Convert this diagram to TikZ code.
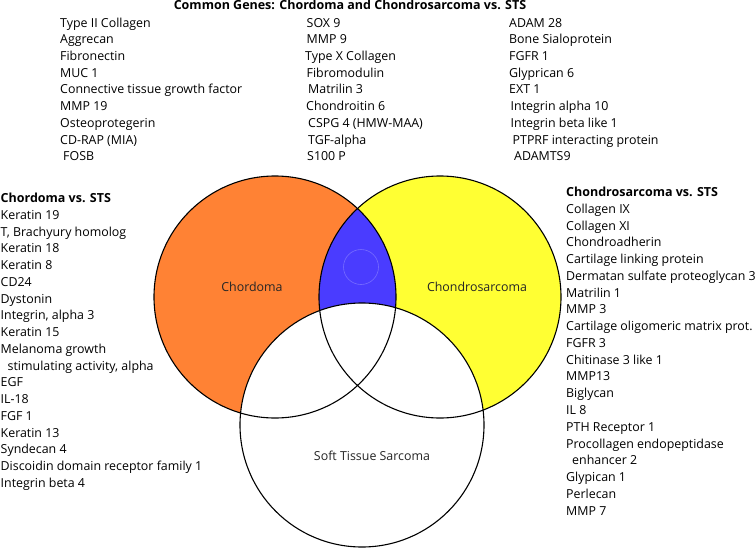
\documentclass[tikz,border=0pt]{standalone}
\usepackage{fontspec}
\setmainfont{Open Sans}
\definecolor{chordoma}{RGB}{255,130,52}
\definecolor{chondro}{RGB}{255,255,51}
\definecolor{common}{RGB}{74,60,255}
\tikzset{
  gene/.style={anchor=base west, inner sep=0pt, font=\fontsize{12.4}{14}\selectfont},
  head/.style={anchor=base west, inner sep=0pt, font=\fontsize{12.5}{14}\selectfont\bfseries},
  setname/.style={anchor=base, inner sep=0pt, text=black!85, font=\fontsize{12.4}{16}\selectfont},
  ring/.style={draw=black, line width=1.1pt},
}

\begin{document}
\begin{tikzpicture}[x=1pt, y=-1pt]
    \useasboundingbox(0, 0)rectangle(756, 549);
    % the three sets
    \coordinate(chd)at(275, 297);
    \coordinate(chs)at(440, 297);
    \coordinate(sts)at(362, 425);
    \fill[chordoma](chd)circle(121);
    \fill[chondro](chs)circle(121);
    \begin{scope}
        \clip(chd)circle(121);
        \fill[common](chs)circle(121);
    \end{scope}
    \fill[white](sts)circle(122);
    \draw[common!75!white, line width=0.6pt](361, 267)circle(17.5);
    \draw[ring](chd)circle(121);
    \draw[ring](chs)circle(121);
    \draw[ring](sts)circle(122);
    \node[setname](lchd)at(252, 291){Chordoma};
    \node[setname](lchs)at(477, 291.5){Chondrosarcoma};
    \node[setname](lsts)at(372, 460.5){Soft Tissue Sarcoma};

    % common genes
    \node[head, anchor=base](title)at(350, 9.5){Common Genes: Chordoma and Chondrosarcoma vs. STS};
    \foreach \dx/\txt [count=\i] in {0/Type II Collagen, 0/Aggrecan, 0/Fibronectin, 0/MUC 1,
        0/Connective tissue growth factor, 0/MMP 19, 0/Osteoprotegerin, 0/CD-RAP (MIA), 3/FOSB}
        \node[gene](ca\i)at(60+\dx, 10.3+16.72*\i){\txt};
    \foreach \dx/\txt [count=\i] in {0/SOX 9, 0/MMP 9, -1.5/Type X Collagen, 0/Fibromodulin,
        1.5/Matrilin 3, -0.5/Chondroitin 6, 1.5/CSPG 4 (HMW-MAA), 1.5/TGF-alpha, 0.5/S100 P}
        \node[gene](cb\i)at(306.5+\dx, 10.3+16.72*\i){\txt};
    \foreach \dx/\txt [count=\i] in {0/ADAM 28, 0/Bone Sialoprotein, 0/FGFR 1, 0/Glyprican 6,
        0/EXT 1, 1.5/Integrin alpha 10, 1.5/Integrin beta like 1, 3.5/PTPRF interacting protein,
        5/ADAMTS9}
        \node[gene](cc\i)at(509+\dx, 10.3+16.72*\i){\txt};

    % chordoma only
    \node[head](hchd)at(0.5, 202.7){Chordoma vs. STS};
    \foreach \dx/\txt [count=\i] in {0/Keratin 19, 0/{T, Brachyury homolog}, 0/Keratin 18,
        0/Keratin 8, 0/CD24, 0/Dystonin, 0/{Integrin, alpha 3}, 0/Keratin 15,
        0/Melanoma growth, 7/{stimulating activity, alpha}, 0/EGF, 0/IL-18, 0/FGF 1,
        0/Keratin 13, 0/Syndecan 4, 0/Discoidin domain receptor family 1, 0/Integrin beta 4}
        \node[gene](gchd\i)at(0.5+\dx, 202.7+16.75*\i){\txt};

    % chondrosarcoma only
    \node[head](hchs)at(566, 196.6){Chondrosarcoma vs. STS};
    \foreach \dx/\txt [count=\i] in {0/Collagen IX, 0/Collagen XI, 0/Chondroadherin,
        0/Cartilage linking protein, 0/Dermatan sulfate proteoglycan 3, 0/Matrilin 1, 0/MMP 3,
        0/Cartilage oligomeric matrix prot., 0/FGFR 3, 0/Chitinase 3 like 1, 0/MMP13,
        0/Biglycan, 0/IL 8, 0/PTH Receptor 1, 0/Procollagen endopeptidase, 6/enhancer 2,
        0/Glypican 1, 0/Perlecan, 0/MMP 7}
        \node[gene](gchs\i)at(566+\dx, 196.6+16.76*\i){\txt};
\end{tikzpicture}
\end{document}
